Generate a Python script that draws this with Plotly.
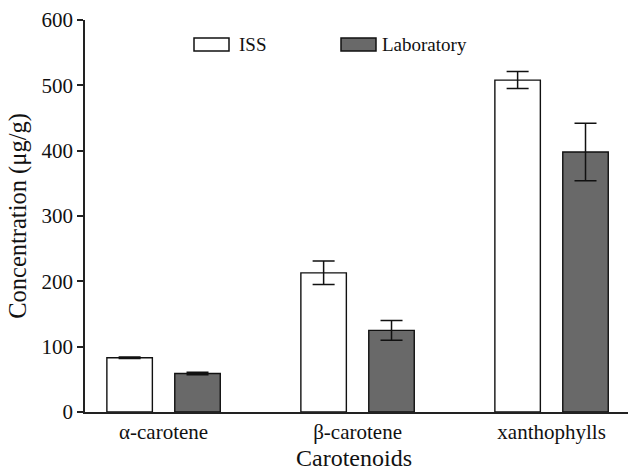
import plotly.graph_objects as go

categories = ["α-carotene", "β-carotene", "xanthophylls"]
iss_values = [83, 213, 508]
iss_errors = [1, 18, 13]
lab_values = [59, 125, 398]
lab_errors = [2, 15, 44]
series_names = ["ISS", "Laboratory"]
y_ticks = [0, 100, 200, 300, 400, 500, 600]
x_title = "Carotenoids"
y_title = "Concentration (μg/g)"

FONT = "Liberation Serif"
LAB_FILL = "#696969"

fig = go.Figure()
fig.add_trace(go.Bar(
    x=categories, y=iss_values, name=series_names[0],
    marker=dict(color="white", line=dict(color="#111", width=1.4)),
    error_y=dict(type="data", array=iss_errors, color="#111", thickness=1.5, width=11),
    showlegend=False,
))
fig.add_trace(go.Bar(
    x=categories, y=lab_values, name=series_names[1],
    marker=dict(color=LAB_FILL, line=dict(color="#111", width=1.4)),
    error_y=dict(type="data", array=lab_errors, color="#111", thickness=1.5, width=11),
    showlegend=False,
))

# legend drawn as boxes + labels
W, H = 628, 468
L, B, T = 85, 55.7, 20
PW, PH = W - L, H - B - T

legend_items = [(194, 239, series_names[0], "white"), (341, 382, series_names[1], LAB_FILL)]
shapes = []
annotations = []
for x0, tx, label, fill in legend_items:
    shapes.append(dict(type="rect", xref="paper", yref="paper",
                       x0=(x0 - L) / PW, x1=(x0 + 35 - L) / PW,
                       y0=(H - B - 51) / PH, y1=(H - B - 38) / PH,
                       fillcolor=fill, line=dict(color="#111", width=1.5)))
    annotations.append(dict(xref="paper", yref="paper",
                            x=(tx - L) / PW, y=(H - B - 44.5) / PH,
                            text=label, showarrow=False, xanchor="left", yanchor="middle",
                            xshift=-2,
                            font=dict(family=FONT, size=19, color="#111")))

# x-axis title
annotations.append(dict(xref="paper", yref="paper", x=0.495, y=0,
                        text=x_title, showarrow=False, xanchor="center", yanchor="middle",
                        yshift=-46, font=dict(family=FONT, size=24, color="#111")))

fig.update_layout(
    width=W, height=H,
    margin=dict(l=L, r=0, t=T, b=B),
    plot_bgcolor="white", paper_bgcolor="white",
    barmode="group", bargap=0.30, bargroupgap=0.33,
    font=dict(family=FONT, size=21, color="#111"),
    shapes=shapes, annotations=annotations,
    xaxis=dict(
        range=[-0.405, 2.394], automargin=False,
        showline=True, linecolor="#222", linewidth=1.5,
        ticks="", showgrid=False, zeroline=False,
        tickfont=dict(family=FONT, size=21, color="#111"),
    ),
    yaxis=dict(
        range=[0, 600], tickvals=y_ticks, automargin=False,
        showline=True, linecolor="#222", linewidth=1.5,
        ticks="outside", ticklen=6, tickwidth=1.5, tickcolor="#222",
        showgrid=False, zeroline=False,
        tickfont=dict(family=FONT, size=21, color="#111"),
        title=dict(text=y_title, font=dict(family=FONT, size=24.5, color="#111"), standoff=8),
    ),
)

fig.write_html("out.html")
